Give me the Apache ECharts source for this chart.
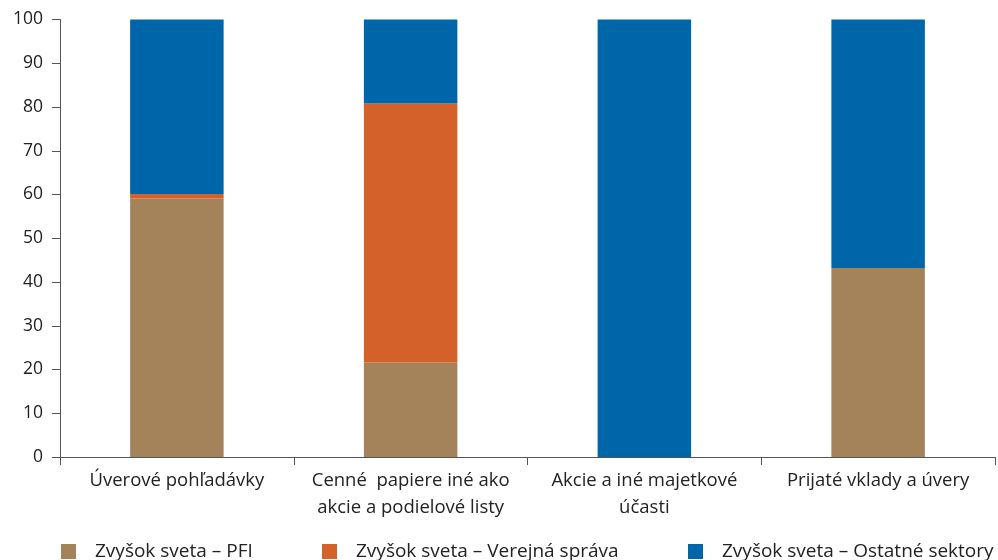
<!DOCTYPE html>
<html><head><meta charset="utf-8">
<script src="https://cdn.jsdelivr.net/npm/echarts@6/dist/echarts.min.js"></script>
<style>html,body{margin:0;padding:0;background:#fff}#c{width:998px;height:560px}</style>
</head><body><div id="c"></div>
<script>
const categories = ["Úverové pohľadávky", "Cenné  papiere iné ako\nakcie a podielové listy", "Akcie a iné majetkové\núčasti", "Prijaté vklady a úvery"];
const seriesNames = ["Zvyšok sveta – PFI", "Zvyšok sveta – Verejná správa", "Zvyšok sveta – Ostatné sektory"];
const pfi = [59.1, 21.6, 0, 43.2];
const verejna = [1.0, 59.2, 0, 0];
const ostatne = [39.9, 19.2, 100, 56.8];
const yTicks = [0, 10, 20, 30, 40, 50, 60, 70, 80, 90, 100];

const colors = ["#A5835A", "#D4612A", "#0066AA"];
const font = "Open Sans";
const chart = echarts.init(document.getElementById('c'));
const legendPos = [56, 317, 683];
chart.setOption({
  animation: false,
  textStyle: {fontFamily: font},
  grid: {left: 60, right: 3, top: 19.5, bottom: 103},
  legend: seriesNames.map((n, i) => ({
    data: [n], left: legendPos[i], top: 537, padding: 5, itemWidth: 15, itemHeight: 15, itemGap: 10,
    icon: 'rect', textStyle: {fontFamily: font, fontSize: 19, color: '#222', padding: [0, 0, 0, 14]}
  })),
  xAxis: {
    type: 'category', data: categories,
    axisLine: {lineStyle: {color: '#555', width: 1}},
    axisTick: {show: true, length: 8, lineStyle: {color: '#555'}},
    axisLabel: {fontFamily: font, fontSize: 18.5, color: '#222', margin: 10, lineHeight: 27, interval: 0}
  },
  yAxis: {
    type: 'value', min: yTicks[0], max: yTicks[yTicks.length - 1], interval: 10,
    splitLine: {show: false},
    axisLine: {show: true, lineStyle: {color: '#555'}},
    axisTick: {show: true, length: 8, lineStyle: {color: '#555'}},
    axisLabel: {fontFamily: font, fontSize: 17.5, color: '#222', margin: 17}
  },
  series: [pfi, verejna, ostatne].map((d, i) => ({
    name: seriesNames[i], type: 'bar', stack: 's', data: d, barWidth: '40%',
    itemStyle: {color: colors[i]}
  }))
});
</script></body></html>
